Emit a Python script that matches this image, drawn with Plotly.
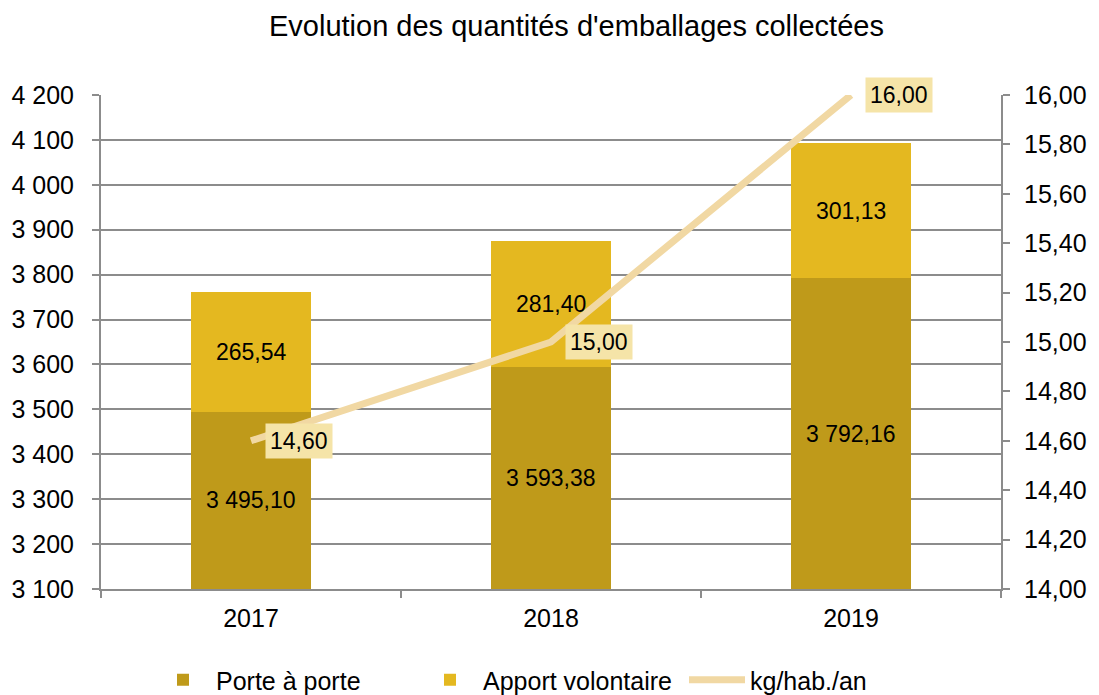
import plotly.graph_objects as go

years = ["2017", "2018", "2019"]
porte_a_porte = [3495.10, 3593.38, 3792.16]
apport_volontaire = [265.54, 281.40, 301.13]
kg_hab_an = [14.60, 15.00, 16.00]

left_ticks = [3100, 3200, 3300, 3400, 3500, 3600, 3700, 3800, 3900, 4000, 4100, 4200]
right_ticks = [14.0, 14.2, 14.4, 14.6, 14.8, 15.0, 15.2, 15.4, 15.6, 15.8, 16.0]


def fr(v, dec=2):
    s = f"{v:,.{dec}f}"
    return s.replace(",", " ").replace(".", ",")


FONT = "Liberation Sans, Arial, sans-serif"
GRID = "#8C8C8C"
C1 = "#BF9A1A"
C2 = "#E4B820"
C3 = "#F1D8A3"
LBL = "#F5E4A8"
Y0 = left_ticks[0]

# the page body has an 8px margin: compensate so that the plot area lands where the reference has it
OFF = 8
W, H = 1099 - OFF, 695 - OFF
ML, MR, MT, MB = 101 - OFF, 98, 95 - OFF, 106
PW, PH = W - ML - MR, H - MT - MB

fig = go.Figure()
fig.add_trace(go.Bar(x=years, y=porte_a_porte, name="Porte à porte", marker=dict(color=C1, line=dict(width=0)),
                     width=0.4))
fig.add_trace(go.Bar(x=years, y=apport_volontaire, name="Apport volontaire", marker=dict(color=C2, line=dict(width=0)),
                     width=0.4))
fig.add_trace(go.Scatter(x=years, y=kg_hab_an, name="kg/hab./an", mode="lines", yaxis="y2",
                         line=dict(color=C3, width=7)))

LF = dict(size=23, color="black", family=FONT)
annotations = []
for i, y in enumerate(years):
    annotations.append(dict(x=i, y=(Y0 + porte_a_porte[i]) / 2, xref="x", yref="y", text=fr(porte_a_porte[i]),
                            showarrow=False, font=LF))
    annotations.append(dict(x=i, y=porte_a_porte[i] + apport_volontaire[i] / 2, xref="x", yref="y",
                            text=fr(apport_volontaire[i]), showarrow=False, font=LF))
    annotations.append(dict(x=i, y=kg_hab_an[i], xref="x", yref="y2", text=fr(kg_hab_an[i]), showarrow=False,
                            xanchor="left", xshift=14, bgcolor=LBL, borderpad=4, font=LF))
annotations.append(dict(x=(576 - 101) / PW, y=1 + (95 - 26) / PH, xref="paper", yref="paper",
                        xanchor="center", yanchor="middle",
                        text="Evolution des quantités d'emballages collectées",
                        showarrow=False, font=dict(size=29, color="black", family=FONT)))

fig.update_layout(
    width=W, height=H,
    margin=dict(l=ML, r=MR, t=MT, b=MB, autoexpand=False),
    barmode="stack",
    plot_bgcolor="white", paper_bgcolor="white",
    font=dict(family=FONT, size=25, color="black"),
    showlegend=True,
    legend=dict(orientation="h", x=(150 - 101) / PW, xanchor="left", y=-(680 - 589) / PH, yanchor="middle",
                font=dict(size=25, family=FONT), traceorder="normal", itemwidth=56,
                entrywidth=196, entrywidthmode="pixels"),
    annotations=annotations,
    xaxis=dict(type="category", showline=True, linecolor=GRID, linewidth=2, ticks="outside",
               tickson="boundaries", ticklen=7, tickcolor=GRID, tickwidth=2, showgrid=False,
               range=[-0.5, 2.5], ticklabelstandoff=6, tickfont=dict(size=25)),
    yaxis=dict(range=[3100, 4200], tickvals=left_ticks, ticktext=[fr(v, 0) for v in left_ticks],
               showgrid=True, gridcolor=GRID, gridwidth=2, showline=True, linecolor=GRID, linewidth=2,
               ticks="outside", ticklen=7, tickcolor=GRID, tickwidth=2, zeroline=False,
               ticklabelstandoff=13, tickfont=dict(size=25)),
    yaxis2=dict(range=[14, 16], overlaying="y", side="right", tickvals=right_ticks,
                ticktext=[fr(v) for v in right_ticks], showgrid=False, showline=True, linecolor=GRID,
                linewidth=2, ticks="outside", ticklen=7, tickcolor=GRID, tickwidth=2, zeroline=False,
                ticklabelstandoff=9, tickfont=dict(size=25)),
)
fig.write_html("out.html")
